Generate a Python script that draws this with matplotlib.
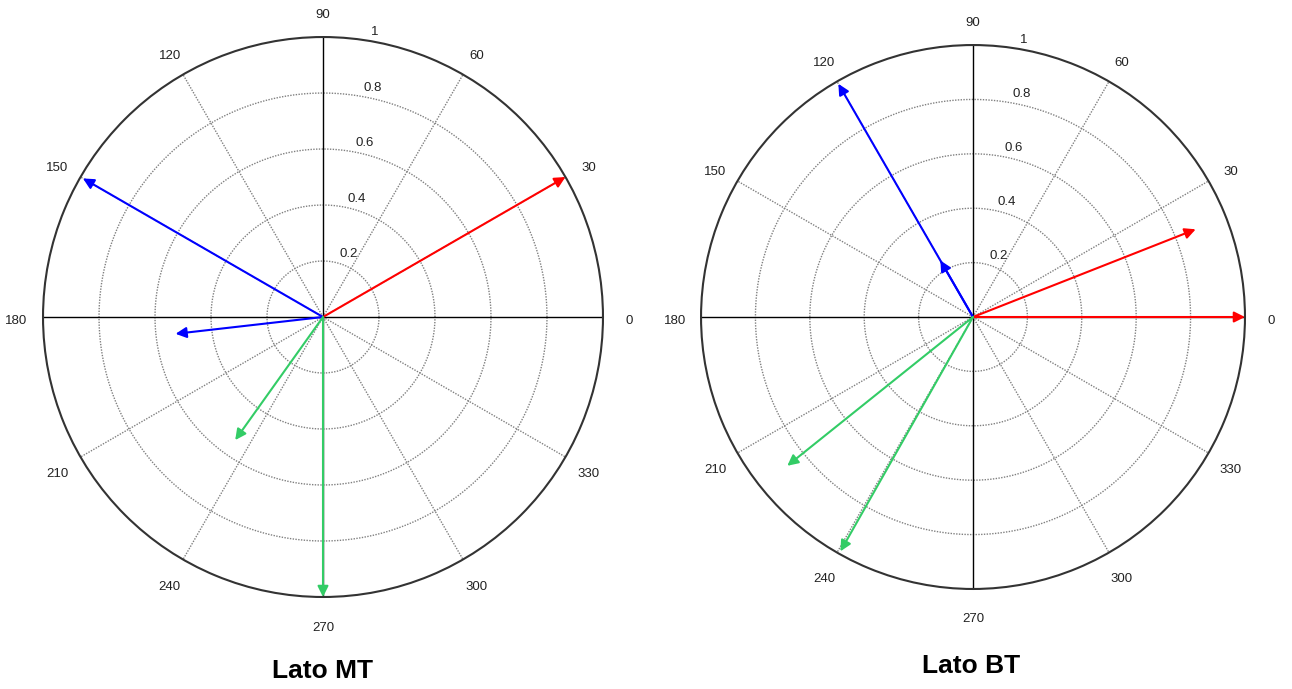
import matplotlib.pyplot as plt
import numpy as np

plt.rcParams['font.family'] = ['Liberation Sans', 'DejaVu Sans']

# Data - vettori (angolo in gradi, modulo)
mt_angles = [30, 150, 186.5, 234.5, 270]
mt_mags = [1.0, 0.99, 0.53, 0.54, 1.0]
mt_colors = ['red', 'blue', 'blue', 'green', 'green']

bt_angles = [0, 21.5, 120, 120, 218.7, 240.5]
bt_mags = [1.0, 0.88, 0.99, 0.24, 0.875, 0.99]
bt_colors = ['red', 'red', 'blue', 'blue', 'green', 'green']

angle_ticks = [0, 30, 60, 90, 120, 150, 180, 210, 240, 270, 300, 330]
radial_ticks = [0.2, 0.4, 0.6, 0.8, 1]

palette = {'red': '#ff0000', 'blue': '#0000ff', 'green': '#33cc66'}


def compass(ax, angles, mags, colors):
    ax.set_ylim(0, 1)
    ax.grid(False)
    ax.set_xticks([])
    ax.set_yticks([])
    ax.spines['polar'].set_color('#333333')
    ax.spines['polar'].set_linewidth(1.5)

    # cerchi tratteggiati
    t = np.linspace(0, 2 * np.pi, 400)
    for r in radial_ticks[:-1]:
        ax.plot(t, np.full_like(t, r), color='#808080', lw=1, ls=(0, (1, 1)), zorder=1)

    # raggi
    for a in angle_ticks:
        th = np.deg2rad(a)
        if a % 90 == 0:
            ax.plot([th, th], [0, 1], color='black', lw=1, zorder=1)
        else:
            ax.plot([th, th], [0, 1], color='#808080', lw=1, ls=(0, (1, 1)), zorder=1)
        ax.annotate(str(a), xy=(th, 1.095), xytext=(0, -3), textcoords='offset points',
                    ha='center', va='center', fontsize=9.5, color='#222222',
                    annotation_clip=False)

    # etichette radiali
    for r in radial_ticks:
        lab = '1' if r == 1 else f'{r:.1f}'
        ax.annotate(lab, xy=(np.deg2rad(82), r + 0.02), xytext=(6, -3),
                    textcoords='offset points', ha='left', va='bottom',
                    fontsize=9.5, color='#222222', annotation_clip=False)

    # vettori
    for a, m, c in zip(angles, mags, colors):
        th = np.deg2rad(a)
        ax.annotate('', xy=(th, m), xytext=(th, 0),
                    arrowprops=dict(arrowstyle='-|>', color=palette[c], lw=1.5,
                                    mutation_scale=16, shrinkA=0, shrinkB=0),
                    zorder=3)


fig = plt.figure(figsize=(12.92, 6.89), dpi=100)
ax1 = fig.add_axes([0.0333, 0.1335, 0.4334, 0.8128], projection='polar')
ax2 = fig.add_axes([0.5426, 0.1451, 0.4210, 0.7896], projection='polar')

compass(ax1, mt_angles, mt_mags, mt_colors)
compass(ax2, bt_angles, bt_mags, bt_colors)

fig.text(323 / 1292, 1 - 671 / 689, 'Lato MT', ha='center', va='center',
         fontsize=19, fontweight='bold')
fig.text(971 / 1292, 1 - 666 / 689, 'Lato BT', ha='center', va='center',
         fontsize=19, fontweight='bold')

plt.savefig('out.png', dpi=100)
